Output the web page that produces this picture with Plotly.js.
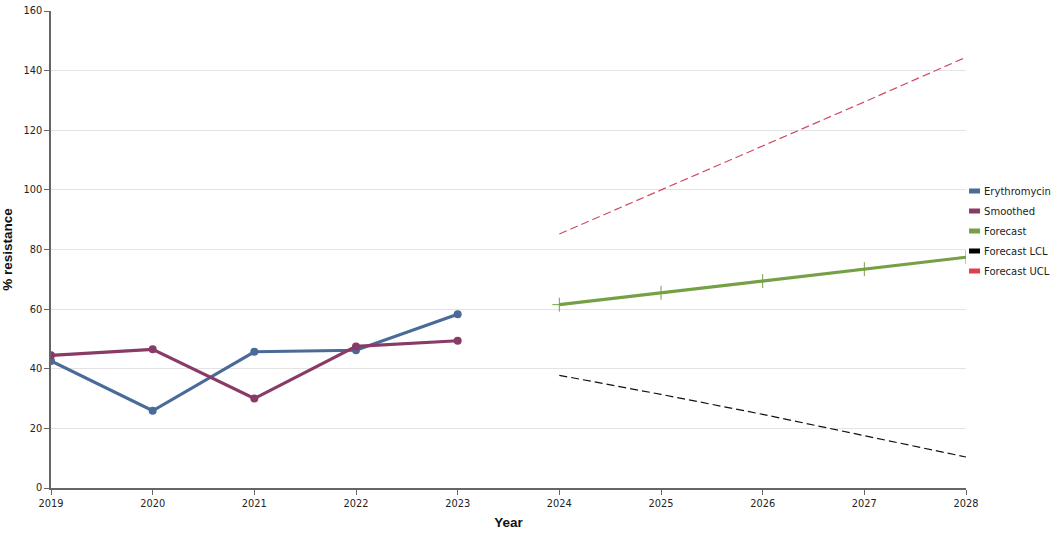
<!DOCTYPE html>
<html>
<head>
<meta charset="utf-8">
<script src="https://cdn.plot.ly/plotly-3.0.1.min.js"></script>
<style>
  html, body { margin: 0; padding: 0; background: #fff; }
  #chart { width: 1052px; height: 534px; }
</style>
</head>
<body>
<div id="chart"></div>
<script>
// observed years and series
const yearsObs = [2019, 2020, 2021, 2022, 2023];
const erythromycin = [42.6, 25.9, 45.7, 46.2, 58.3];
const smoothed = [44.5, 46.5, 30.0, 47.5, 49.4];

// forecast years and series
const yearsFc = [2024, 2025, 2026, 2027, 2028];
const forecast = [61.5, 65.5, 69.4, 73.4, 77.4];
const forecastLCL = [37.8, 31.4, 24.7, 17.5, 10.4];
const forecastUCL = [85.2, 99.9, 114.6, 129.5, 144.5];

const tickYears = [2019, 2020, 2021, 2022, 2023, 2024, 2025, 2026, 2027, 2028];
const yTicks = [0, 20, 40, 60, 80, 100, 120, 140, 160];

const COLORS = {
    ery: '#4a6b9a',
    smooth: '#8a3a66',
    fc: '#76a045',
    lcl: '#111111',
    ucl: '#d04a62'
};

const tickFont = { family: 'DejaVu Sans, Verdana, sans-serif', size: 9.8, color: '#222' };
const titleFont = { family: 'Liberation Sans, Arial, sans-serif', size: 13.5, color: '#111', weight: 'bold' };

const traces = [
    {
        x: yearsObs, y: erythromycin, name: 'Erythromycin', legendgroup: 'g1',
        type: 'scatter', mode: 'lines+markers',
        line: { color: COLORS.ery, width: 3.2 },
        marker: { color: COLORS.ery, size: 8 },
        hoverinfo: 'x+y'
    },
    {
        x: yearsObs, y: smoothed, name: 'Smoothed', legendgroup: 'g2',
        type: 'scatter', mode: 'lines+markers',
        line: { color: COLORS.smooth, width: 3.2 },
        marker: { color: COLORS.smooth, size: 8 },
        hoverinfo: 'x+y'
    },
    {
        x: yearsFc, y: forecast, name: 'Forecast', legendgroup: 'g3',
        type: 'scatter', mode: 'lines+markers',
        line: { color: COLORS.fc, width: 3.2 },
        marker: { symbol: 'cross-thin-open', color: COLORS.fc, size: 10, line: { color: COLORS.fc, width: 1 } },
        hoverinfo: 'x+y'
    },
    {
        x: yearsFc, y: forecastLCL, name: 'Forecast LCL', legendgroup: 'g4',
        type: 'scatter', mode: 'lines',
        line: { color: COLORS.lcl, width: 1.2, dash: '8px,4px' },
        hoverinfo: 'x+y'
    },
    {
        x: yearsFc, y: forecastUCL, name: 'Forecast UCL', legendgroup: 'g5',
        type: 'scatter', mode: 'lines',
        line: { color: COLORS.ucl, width: 1.2, dash: '8px,4px' },
        hoverinfo: 'x+y'
    }
];

// legend swatch colours (slightly brighter red for UCL like the original)
const legendColors = [COLORS.ery, COLORS.smooth, COLORS.fc, '#000000', '#e0404c'];

const layout = {
    width: 1052,
    height: 534,
    margin: { l: 51, r: 86, t: 11, b: 46, autoexpand: false },
    paper_bgcolor: '#fff',
    plot_bgcolor: '#fff',
    showlegend: true,
    legend: {
        x: 0.976, xanchor: 'left',
        y: 0.539, yanchor: 'middle',
        bgcolor: 'rgba(0,0,0,0)',
        font: { family: 'DejaVu Sans, Verdana, sans-serif', size: 10, color: '#222' },
        itemwidth: 30,
        tracegroupgap: 1
    },
    xaxis: {
        range: [2019, 2028],
        tickmode: 'array',
        tickvals: tickYears,
        ticktext: tickYears.map(String),
        showgrid: false,
        zeroline: false,
        showline: true,
        linecolor: '#666',
        linewidth: 1.5,
        ticks: 'outside',
        ticklen: 5,
        tickcolor: '#666',
        tickfont: tickFont,
        fixedrange: true,
        title: { text: 'Year', font: titleFont, standoff: 10 }
    },
    yaxis: {
        range: [0, 160],
        tickmode: 'array',
        tickvals: yTicks,
        showgrid: true,
        gridcolor: '#e3e3e3',
        gridwidth: 1,
        zeroline: false,
        showline: true,
        linecolor: '#666',
        linewidth: 1.5,
        ticks: 'outside',
        ticklen: 5,
        tickcolor: '#666',
        tickfont: tickFont,
        fixedrange: true,
        title: { text: '% resistance', font: titleFont, standoff: 10 }
    }
};

const config = { displayModeBar: false };

Plotly.newPlot('chart', traces, layout, config).then(() => {
    // turn legend line samples into small filled blocks
    const items = document.querySelectorAll('#chart .legend .traces');
    items.forEach((item, i) => {
        const line = item.querySelector('.legendlines path');
        if (line) {
            line.setAttribute('d', 'M25,0h11');
            line.style.strokeWidth = '5px';
            line.style.strokeDasharray = 'none';
            line.style.stroke = legendColors[i];
        }
        item.querySelectorAll('.legendpoints path').forEach(p => p.style.display = 'none');
    });
});
</script>
</body>
</html>
